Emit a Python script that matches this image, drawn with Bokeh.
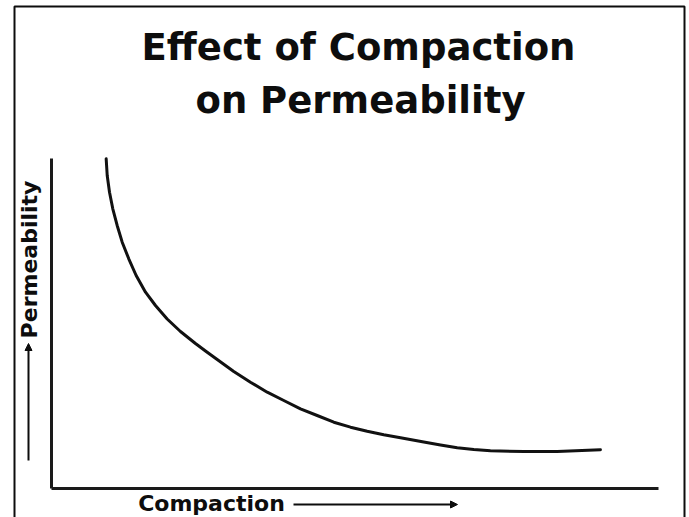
import math
from bokeh.plotting import figure
from bokeh.models import Range1d, LinearAxis, FixedTicker, Label, Arrow, NormalHead, BoxAnnotation, ColumnDataSource
from bokeh.embed import file_html
from bokeh.resources import INLINE

# Data (arbitrary units, 0..10)
compaction = [0.901, 0.918, 0.956, 1.010, 1.082, 1.165, 1.273, 1.395, 1.549, 1.713,
              1.906, 2.125, 2.372, 2.537, 2.730, 3.003, 3.278, 3.554, 3.827, 4.102,
              4.377, 4.651, 4.926, 5.201, 5.474, 5.750, 6.133, 6.409, 6.684, 6.957,
              7.232, 7.781, 8.331, 9.044]
permeability = [9.99, 9.485, 8.979, 8.476, 7.970, 7.464, 6.961, 6.455, 5.948, 5.545,
                5.136, 4.758, 4.394, 4.167, 3.909, 3.545, 3.221, 2.918, 2.667, 2.415,
                2.212, 2.009, 1.858, 1.736, 1.627, 1.536, 1.409, 1.318, 1.233, 1.182,
                1.145, 1.121, 1.124, 1.173]
axis_min, axis_max = 0, 10

title_lines = ["Effect of Compaction", "on Permeability"]
x_label = "Compaction"
y_label = "Permeability"

W, H = 689, 517
p = figure(width=W, height=H, output_backend="svg", toolbar_location=None,
           x_range=Range1d(-0.840, 10.511), y_range=Range1d(-0.879, 14.788),
           x_axis_type=None, y_axis_type=None,
           min_border_left=0, min_border_right=0, min_border_top=0, min_border_bottom=0)
p.background_fill_color = "white"
p.border_fill_color = "white"
p.outline_line_color = None
p.xgrid.visible = False
p.ygrid.visible = False

for loc in ("left", "below"):
    ax = LinearAxis(ticker=FixedTicker(ticks=[]), fixed_location=axis_min, bounds=(axis_min, axis_max))
    ax.axis_line_width = 3
    ax.axis_line_color = "#1a1a1a"
    ax.major_tick_line_color = None
    ax.minor_tick_line_color = None
    ax.major_label_text_font_size = "0px"
    p.add_layout(ax, loc)

src = ColumnDataSource(dict(x=compaction, y=permeability))
p.line("x", "y", source=src, line_width=3, line_color="#111111", line_join="round", line_cap="round")

FONT = "DejaVu Sans"
INK = "#0d0d0d"
# title
p.add_layout(Label(x=358, y=470, x_units="screen", y_units="screen", text=title_lines[0],
                   text_align="center", text_baseline="alphabetic", text_font=FONT,
                   text_font_style="bold", text_font_size="37px", text_color=INK))
p.add_layout(Label(x=360, y=417, x_units="screen", y_units="screen", text=title_lines[1],
                   text_align="center", text_baseline="alphabetic", text_font=FONT,
                   text_font_style="bold", text_font_size="37px", text_color=INK))

# axis labels with arrows
p.add_layout(Label(x=211, y=14, x_units="screen", y_units="screen", text=x_label,
                   text_align="center", text_baseline="middle", text_font=FONT,
                   text_font_style="bold", text_font_size="22px", text_color=INK))
p.add_layout(Arrow(x_start=293, y_start=13, x_end=457, y_end=13,
                   start_units="screen", end_units="screen", line_width=2, line_color=INK,
                   end=NormalHead(size=7, fill_color=INK, line_color=INK)))

p.add_layout(Label(x=29, y=258, x_units="screen", y_units="screen", text=y_label, angle=math.pi / 2,
                   text_align="center", text_baseline="middle", text_font=FONT,
                   text_font_style="bold", text_font_size="22px", text_color=INK))
p.add_layout(Arrow(x_start=28, y_start=57, x_end=28, y_end=174,
                   start_units="screen", end_units="screen", line_width=2, line_color=INK,
                   end=NormalHead(size=7, fill_color=INK, line_color=INK)))

# outer frame of the picture
p.add_layout(BoxAnnotation(left=14, right=684, bottom=-5, top=511,
                           left_units="screen", right_units="screen",
                           bottom_units="screen", top_units="screen",
                           fill_color=None, fill_alpha=0, line_color=INK, line_alpha=1.0,
                           line_width=2, level="overlay"))

open("out.html", "w").write(file_html(p, INLINE))
